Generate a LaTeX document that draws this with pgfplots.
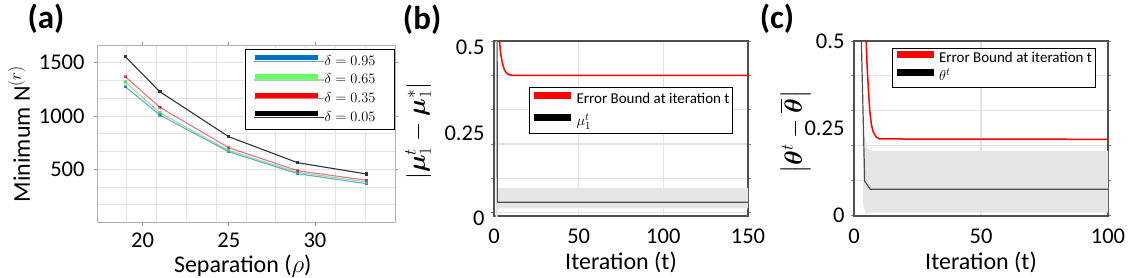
\documentclass[border=0pt]{standalone}
\usepackage{amsmath}
\usepackage{bm}
\usepackage{fontspec}
\setmainfont{Carlito}
\usepackage{pgfplots}
\pgfplotsset{compat=1.18}

\definecolor{cblue}{HTML}{0070C0}
\definecolor{cgreen}{HTML}{66FF66}
\definecolor{cred}{HTML}{FF0000}
\definecolor{band}{HTML}{E6E6E6}
\definecolor{frame}{HTML}{505050}
\definecolor{gridc}{HTML}{E3E3E3}

\newcommand{\tickfont}{\fontsize{22.5}{26}\selectfont}
\newcommand{\labfont}{\fontsize{24}{28}\selectfont}
\newcommand{\titfont}{\fontsize{33}{38}\selectfont\bfseries}
\newcommand{\legfont}{\fontsize{15}{17}\selectfont}

\pgfplotsset{
  base/.style={
    scale only axis,
    anchor=south west,
    clip=true,
    tick label style={font=\tickfont},
    label style={font=\labfont},
    title style={font=\titfont},
    tick align=outside,
    major tick length=3pt,
    minor tick length=0pt,
    legend cell align=left,
  },
}

\begin{document}
\begin{tikzpicture}
\useasboundingbox (0pt,0pt) rectangle (1134pt,277pt);

% ---------------- (a) ----------------
\begin{axis}[base,
  at={(97pt,54.4pt)}, width=298pt, height=177.6pt,
  xmin=17.35, xmax=34.65, ymin=0, ymax=1666.7,
  xtick={20,25,30}, xticklabels={20,25,30},
  ytick={500,1000,1500}, yticklabels={500,1000,1500},
  minor xtick={19.08,20.81,22.54,24.27,26.0,27.73,29.46,31.19,32.92},
  minor ytick={166.67,333.33,666.67,833.33,1166.67,1333.33},
  xmajorgrids=false, xminorgrids=true, ymajorgrids=true, yminorgrids=true,
  grid style={draw=gridc, line width=1pt},
  minor grid style={draw=gridc, line width=1pt},
  axis line style={draw=black!30, line width=1pt},
  tick style={draw=black!40, line width=0.8pt},
  xticklabel style={inner ysep=0.5pt, yshift=-6.5pt},
  yticklabel style={xshift=-6pt},
  xlabel={Separation ($\rho$)},
  ylabel={Minimum N$^{(r)}$},
  xlabel style={at={(axis description cs:0.489,-0.247)}, anchor=center, inner sep=0pt},
  ylabel style={at={(axis description cs:-0.262,0.5)}, anchor=center, rotate=0},
  title={(a)},
  title style={at={(axis description cs:-0.171,1.113)}, anchor=center},
  legend style={at={(0.497,0.977)}, anchor=north west, draw=black, line width=1pt,
    font=\legfont, inner xsep=7pt, inner ysep=3pt, row sep=1.2pt,
    nodes={inner xsep=0pt, inner ysep=1.5pt, text height=11pt, text depth=3.5pt, text width=63pt}},
]
\addplot[cblue, opacity=0.6, line width=1.1pt, mark=square*, mark size=1.1pt,
  legend image code/.code={\path (0pt,0pt) -- (70pt,0pt);\draw[cblue, opacity=1, line width=5pt] (1pt,3.6pt) -- (64pt,3.6pt);}]
  coordinates {(19,1275) (21,1009) (25,665) (29,459) (33,365)};
\addlegendentry{$\delta = 0.95$}
\addplot[cgreen!80!black, opacity=0.6, line width=1.1pt, mark=square*, mark size=1.1pt,
  legend image code/.code={\path (0pt,0pt) -- (70pt,0pt);\draw[cgreen, opacity=1, line width=5pt] (1pt,3.6pt) -- (64pt,3.6pt);}]
  coordinates {(19,1319) (21,1031) (25,677) (29,472) (33,381)};
\addlegendentry{$\delta = 0.65$}
\addplot[cred!85!blue, opacity=0.55, line width=1.1pt, mark=square*, mark size=1.1pt,
  legend image code/.code={\path (0pt,0pt) -- (70pt,0pt);\draw[cred, opacity=1, line width=5pt] (1pt,3.6pt) -- (64pt,3.6pt);}]
  coordinates {(19,1369) (21,1082) (25,703) (29,487) (33,397)};
\addlegendentry{$\delta = 0.35$}
\addplot[black!80, line width=1.1pt, mark=square*, mark size=1.1pt,
  legend image code/.code={\path (0pt,0pt) -- (70pt,0pt);\draw[black, opacity=1, line width=5pt] (1pt,3.6pt) -- (64pt,3.6pt);}]
  coordinates {(19,1556) (21,1228) (25,806) (29,562) (33,456)};
\addlegendentry{$\delta = 0.05$}
\end{axis}

% ---------------- (b) ----------------
\begin{axis}[base,
  at={(494pt,61pt)}, width=254pt, height=175pt,
  xmin=0, xmax=150, ymin=-0.01, ymax=0.5,
  xtick={0,50,100,150}, xticklabels={0,50,100,150},
  ytick={0,0.1,0.2,0.3,0.4,0.5}, yticklabels={},
  extra y ticks={0,0.25,0.5}, extra y tick labels={0,0.25,0.5},
  extra y tick style={grid=none, major tick length=0pt, yticklabel style={yshift=-6pt}},
  grid=major,
  grid style={draw=gridc, line width=1.2pt},
  axis line style={draw=frame, line width=1.3pt},
  xtick style={draw=none},
  ytick style={draw=black!50, line width=0.8pt},
  xticklabel style={yshift=-6pt},
  yticklabel style={xshift=-6pt},
  xlabel={Iteration (t)},
  ylabel={$\left|\boldsymbol{\mu}_1^t - \boldsymbol{\mu}_1^*\right|$},
  xlabel style={at={(axis description cs:0.5,-0.263)}, anchor=center},
  ylabel style={at={(axis description cs:-0.299,0.485)}, anchor=center},
  title={(b)},
  title style={at={(axis description cs:-0.283,1.089)}, anchor=center},
  legend style={at={(0.138,0.737)}, anchor=north west, draw=black, line width=1pt,
    font=\legfont, inner xsep=1pt, inner ysep=2pt, row sep=2pt,
    nodes={inner sep=2pt, text height=12pt, text depth=4pt}},
]
\addplot[fill=band, draw=none, forget plot]
  coordinates {(0.9,0.6) (1.9,0.6) (2.3,0.071) (150,0.071) (150,0.012) (2.3,0.012) (1.9,-0.03) (0.9,-0.03)};
\addplot[cred, line width=1.5pt,
  legend image code/.code={\draw[cred, line width=7pt] (0pt,4pt) -- (37pt,4pt);}]
  coordinates {(3.1,0.53) (3.3,0.5) (3.7,0.475) (4.2,0.455) (5,0.435) (5.7,0.422) (6.5,0.413) (7.5,0.406) (9,0.402) (11,0.4) (150,0.4)};
\addlegendentry{Error Bound at iteration t}
\addplot[frame, line width=1.2pt,
  legend image code/.code={\draw[black, line width=7pt] (0pt,4pt) -- (37pt,4pt);}]
  coordinates {(1.8,0.6) (2.0,0.03) (150,0.03)};
\addlegendentry{$\mu_1^t$}
\end{axis}

% ---------------- (c) ----------------
\begin{axis}[base,
  at={(854pt,61pt)}, width=254pt, height=175pt,
  xmin=0, xmax=100, ymin=-0.002, ymax=0.5,
  xtick={0,50,100}, xticklabels={0,50,100},
  ytick={0,0.1,0.2,0.3,0.4,0.5}, yticklabels={},
  extra y ticks={0,0.25,0.5}, extra y tick labels={0,0.25,0.5},
  extra y tick style={grid=none, major tick length=0pt},
  grid=major,
  grid style={draw=gridc, line width=1.2pt},
  axis line style={draw=frame, line width=1.3pt},
  xtick style={draw=none},
  ytick style={draw=black!50, line width=0.8pt},
  xticklabel style={yshift=-6pt},
  yticklabel style={xshift=-6pt},
  xlabel={Iteration (t)},
  ylabel={$\left|\boldsymbol{\theta}^t - \overline{\boldsymbol{\theta}}\right|$},
  xlabel style={at={(axis description cs:0.5,-0.263)}, anchor=center},
  ylabel style={at={(axis description cs:-0.232,0.48)}, anchor=center},
  title={(c)},
  title style={at={(axis description cs:-0.303,1.091)}, anchor=center},
  legend style={at={(0.148,0.962)}, anchor=north west, draw=black, line width=1pt,
    font=\legfont, inner xsep=1pt, inner ysep=1pt, row sep=0pt,
    nodes={inner sep=2pt, text height=11pt, text depth=3.5pt}},
]
\addplot[fill=band, draw=none, forget plot]
  coordinates {(3.5,0.26) (4.5,0.215) (5.5,0.192) (7,0.185) (100,0.185) (100,0.008) (6,0.008) (4.8,0.004) (3.6,0.03)};
\addplot[cred, line width=1.5pt,
  legend image code/.code={\draw[cred, line width=7pt] (0pt,4pt) -- (37pt,4pt);}]
  coordinates {(4.7,0.53) (4.8,0.5) (5.2,0.42) (5.6,0.37) (6.2,0.30) (6.8,0.262) (7.5,0.24) (8.8,0.224) (10,0.219) (100,0.218)};
\addlegendentry{Error Bound at iteration t}
\addplot[frame, line width=1.2pt,
  legend image code/.code={\draw[black, line width=7pt] (0pt,4pt) -- (37pt,4pt);}]
  coordinates {(2.8,0.55) (2.9,0.5) (4.2,0.098) (6.4,0.075) (100,0.075)};
\addlegendentry{$\theta^t$}
\end{axis}
\end{tikzpicture}
\end{document}
